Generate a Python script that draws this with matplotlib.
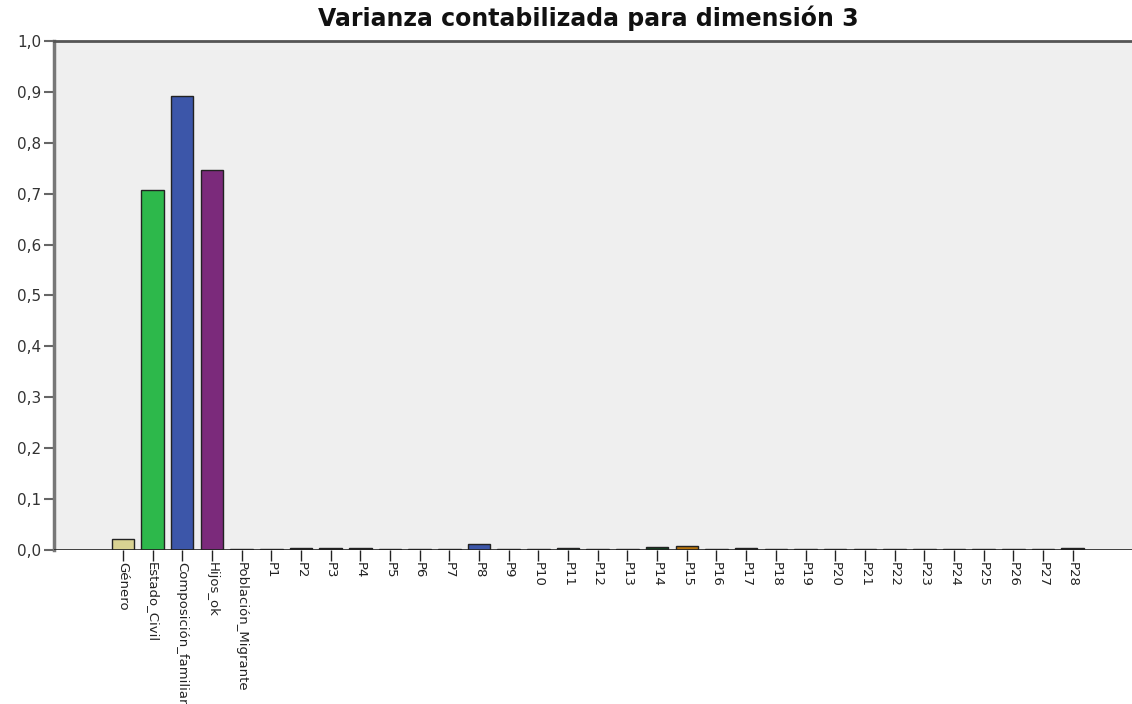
import matplotlib
matplotlib.use('Agg')
import matplotlib.pyplot as plt
import numpy as np

# categories and variance for dimension 3
labels = ['Género', 'Estado_Civil', 'Composición_familiar', 'Hijos_ok',
          'Población_Migrante'] + ['P{}'.format(i) for i in range(1, 29)]
values = [0.022, 0.707, 0.891, 0.747, 0.001,
          0.001, 0.003, 0.003, 0.003, 0.002, 0.001, 0.002, 0.012, 0.001, 0.001,
          0.004, 0.001, 0.001, 0.006, 0.007, 0.001, 0.004, 0.001, 0.001, 0.001,
          0.002, 0.001, 0.001, 0.002, 0.002, 0.001, 0.002, 0.004]
colors = ['#d8d292', '#2db84b', '#3c56a9', '#7b2a7b', '#333333',
          '#444444', '#222222', '#222222', '#222222', '#444444', '#555555', '#333333',
          '#3c56a9', '#555555', '#555555', '#2f5f5a', '#555555', '#555555',
          '#12401f', '#b5720c', '#555555', '#222222', '#555555', '#555555', '#555555',
          '#333333', '#555555', '#555555', '#333333', '#444444', '#555555', '#444444',
          '#111111']
yticks = np.arange(0, 1.01, 0.1)

fig = plt.figure(figsize=(11.32, 7.04), dpi=100)
ax = fig.add_axes([0.0477, 0.2188, 0.9523, 0.723])
ax.set_facecolor('#efefef')

x = np.arange(len(labels))
ax.bar(x, values, width=0.76, color=colors, edgecolor='#222222', linewidth=1.0, zorder=3)
ax.axhline(0, color='#222222', linewidth=1.2, zorder=4)

ax.set_xlim(-2.32, 34.0)
ax.set_ylim(0, 1.0)
ax.set_yticks(yticks)
ax.set_yticklabels(['{:.1f}'.format(v).replace('.', ',') for v in yticks],
                   fontsize=11, color='#333333')
ax.set_xticks(x)
ax.set_xticklabels(labels, rotation=270, fontsize=9.5, color='#222222',
                   ha='center', va='top')
ax.tick_params(axis='y', direction='out', length=7, width=1.5, color='#666666', pad=2)
ax.tick_params(axis='x', direction='out', length=8, width=1.0, color='#222222', pad=1)

for side in ['right', 'bottom']:
    ax.spines[side].set_visible(False)
ax.spines['left'].set_color('#777777')
ax.spines['left'].set_linewidth(2.5)
ax.spines['top'].set_color('#555555')
ax.spines['top'].set_linewidth(2.0)

fig.text(0.52, 0.974, 'Varianza contabilizada para dimensión 3', ha='center', va='center',
         fontsize=17, fontweight='bold', color='#111111')

fig.savefig('out.png', dpi=100)
plt.close()
